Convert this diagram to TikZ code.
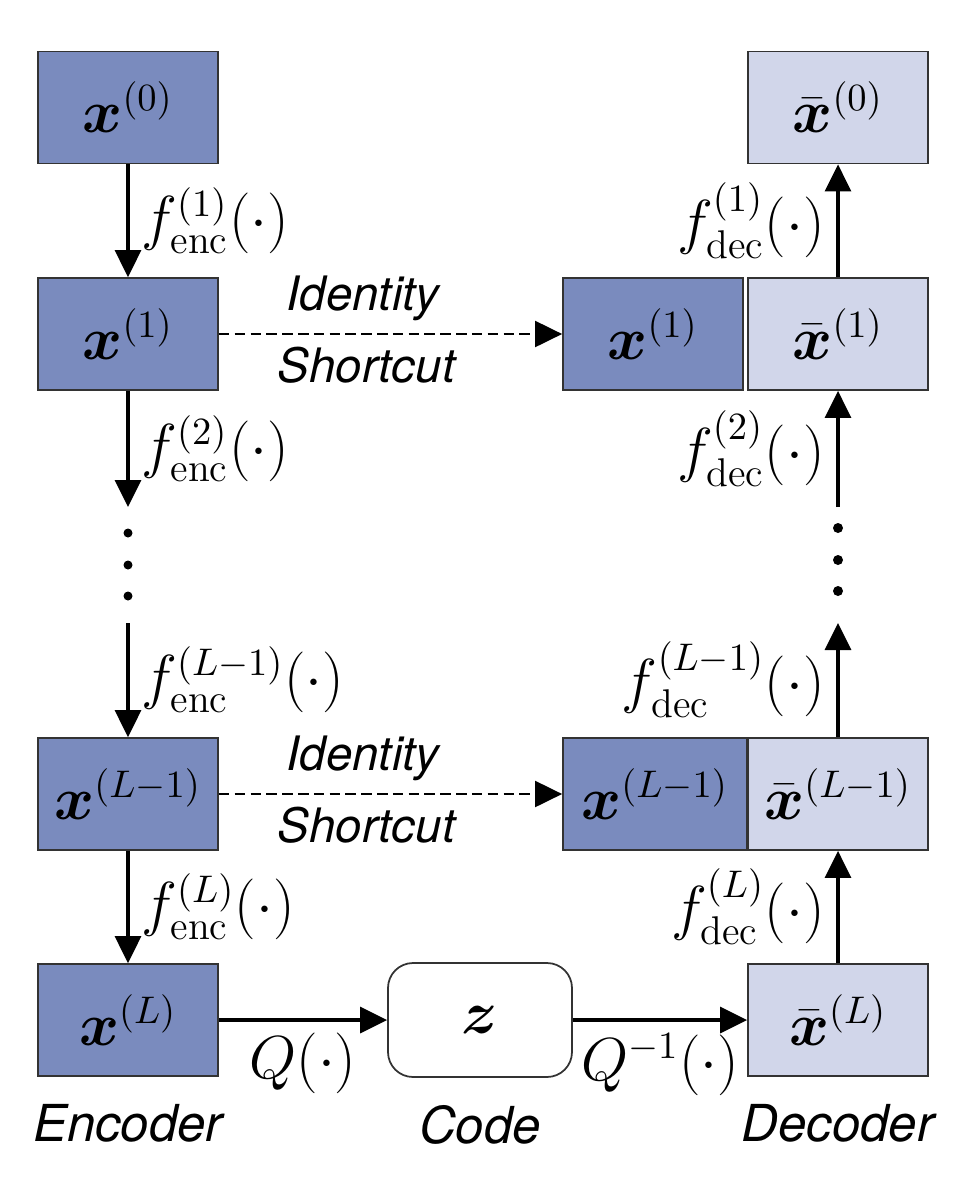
\documentclass[tikz,border=0pt]{standalone}
\usepackage{amsmath,amssymb}
\usepackage{fontspec}
\setsansfont{TeX Gyre Heros}
\usetikzlibrary{arrows.meta, positioning, calc}

\definecolor{encblue}{HTML}{7A8BBE}
\definecolor{decblue}{HTML}{D1D6EA}
\definecolor{edgegray}{HTML}{333333}
\newcommand{\figsize}{\fontsize{16.3}{19}\selectfont}

\begin{document}
\begin{tikzpicture}[
    cell/.style={draw=edgegray, line width=0.5pt, minimum width=1.8cm, minimum height=1.12cm, inner sep=0pt, font=\figsize},
    enc/.style={cell, fill=encblue},
    dec/.style={cell, fill=decblue},
    arrow/.style={-{Triangle[width=0.26cm,length=0.27cm]}, line width=0.9pt},
    shortcut/.style={arrow, line width=0.6pt, dash pattern=on 3pt off 1.5pt},
    lbl/.style={font=\figsize},
    word/.style={font=\sffamily\itshape\fontsize{14.5}{17}\selectfont},
    smallword/.style={font=\sffamily\itshape\fontsize{13.5}{16}\selectfont}
]
    \useasboundingbox (0,0) rectangle (9.7,-12);
    % encoder column
    \node[enc] (x0) at (1.28,-1.075) {$\boldsymbol{x}^{(0)}$};
    \node[enc] (x1) at (1.28,-3.34) {$\boldsymbol{x}^{(1)}$};
    \node[enc] (xl1) at (1.28,-7.94) {$\boldsymbol{x}^{(L-1)}$};
    \node[enc] (xl) at (1.28,-10.20) {$\boldsymbol{x}^{(L)}$};
    % code
    \node[cell, rounded corners=0.25cm, minimum width=1.84cm, minimum height=1.14cm] (z) at (4.80,-10.20) {$\boldsymbol{z}$};
    % decoder column
    \node[dec] (xb0) at (8.38,-1.075) {$\bar{\boldsymbol{x}}^{(0)}$};
    \node[dec] (xb1) at (8.38,-3.34) {$\bar{\boldsymbol{x}}^{(1)}$};
    \node[enc] (x1c) at (6.53,-3.34) {$\boldsymbol{x}^{(1)}$};
    \node[dec] (xbl1) at (8.38,-7.94) {$\bar{\boldsymbol{x}}^{(L-1)}$};
    \node[enc, minimum width=1.84cm] (xl1c) at (6.55,-7.94) {$\boldsymbol{x}^{(L-1)}$};
    \node[dec] (xbl) at (8.38,-10.20) {$\bar{\boldsymbol{x}}^{(L)}$};

    \coordinate (e2) at (1.28,-5.07);
    \coordinate (e3) at (1.28,-6.23);
    \coordinate (d2) at (8.38,-6.23);
    \coordinate (d3) at (8.38,-5.07);

    \draw[arrow] (x0.south) -- (x1.north) node[lbl, midway, right] {$f^{(1)}_{\mathrm{enc}}(\cdot)$};
    \draw[arrow] (x1.south) -- (e2) node[lbl, midway, right] {$f^{(2)}_{\mathrm{enc}}(\cdot)$};
    \foreach \y in {5.33,5.65,5.96} \fill (1.28,-\y) circle (0.045);
    \draw[arrow] (e3) -- (xl1.north) node[lbl, midway, right] {$f^{(L-1)}_{\mathrm{enc}}(\cdot)$};
    \draw[arrow] (xl1.south) -- (xl.north) node[lbl, midway, right] {$f^{(L)}_{\mathrm{enc}}(\cdot)$};

    \draw[arrow] (xbl.north) -- (xbl1.south) node[lbl, midway, left] {$f^{(L)}_{\mathrm{dec}}(\cdot)$};
    \draw[arrow] (xbl1.north) -- (d2) node[lbl, midway, left] {$f^{(L-1)}_{\mathrm{dec}}(\cdot)$};
    \foreach \y in {5.28,5.60,5.91} \fill (8.38,-\y) circle (0.05);
    \draw[arrow] (d3) -- (xb1.south) node[lbl, midway, left] {$f^{(2)}_{\mathrm{dec}}(\cdot)$};
    \draw[arrow] (xb1.north) -- (xb0.south) node[lbl, midway, left] {$f^{(1)}_{\mathrm{dec}}(\cdot)$};

    % identity shortcuts
    \draw[shortcut] (x1.east) -- (x1c.west)
        node[smallword, pos=0.42, above] {Identity}
        node[smallword, pos=0.43, below] {Shortcut};
    \draw[shortcut] (xl1.east) -- (xl1c.west)
        node[smallword, pos=0.42, above] {Identity}
        node[smallword, pos=0.43, below] {Shortcut};

    % quantisation
    \draw[arrow] (xl.east) -- (z.west) node[lbl, midway, below] {$Q(\cdot)$};
    \draw[arrow] (z.east) -- (xbl.west) node[lbl, midway, below] {$Q^{-1}(\cdot)$};

    \node[word, below=0.15cm of xl] (encw) {Encoder};
    \node[word, below=0.15cm of z] (codew) {Code};
    \node[word, below=0.15cm of xbl] (decw) {Decoder};
\end{tikzpicture}
\end{document}
